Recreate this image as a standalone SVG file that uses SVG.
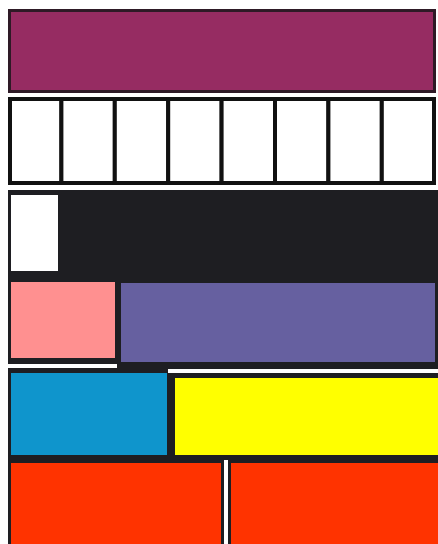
<svg xmlns="http://www.w3.org/2000/svg" width="438" height="544" viewBox="0 0 438 544">
<style>
.cell{fill:#ffffff;stroke:#111;stroke-width:4}
.dk{fill:#1e1e22}
</style>
<rect width="438" height="544" fill="#ffffff"/>
<g id="row1">
<rect x="8" y="9" width="428" height="84" fill="#2e1a26"/>
<rect x="11" y="12" width="422" height="78" fill="#962c62"/>
</g>
<g id="row2">
<rect class="cell" x="10" y="99" width="51.4" height="84"/>
<rect class="cell" x="61.4" y="99" width="53.4" height="84"/>
<rect class="cell" x="114.8" y="99" width="53.4" height="84"/>
<rect class="cell" x="168.2" y="99" width="53.4" height="84"/>
<rect class="cell" x="221.6" y="99" width="53.4" height="84"/>
<rect class="cell" x="275" y="99" width="53.4" height="84"/>
<rect class="cell" x="328.4" y="99" width="53.4" height="84"/>
<rect class="cell" x="381.8" y="99" width="52.2" height="84"/>
</g>
<g id="row3">
<rect class="dk" x="8" y="190" width="430" height="90"/>
<rect x="11" y="195" width="47" height="76" fill="#ffffff"/>
</g>
<g id="row4">
<rect class="dk" x="8" y="280" width="430" height="88"/>
<rect x="11" y="282" width="104" height="76" fill="#ff9090"/>
<rect x="121" y="283" width="314" height="79" fill="#6660a0"/>
</g>
<g id="row5">
<rect class="dk" x="8" y="366" width="430" height="94"/>
<rect x="11" y="373" width="156" height="82" fill="#0f95cc"/>
<rect x="175" y="378" width="263" height="77" fill="#ffff00"/>
<rect x="8" y="364" width="109" height="4" fill="#ffffff"/>
<rect x="168" y="369" width="270" height="4" fill="#ffffff"/>
</g>
<g id="row6">
<rect class="dk" x="8" y="458" width="430" height="86"/>
<rect x="11" y="463" width="210" height="81" fill="#ff3300"/>
<rect x="231" y="463" width="207" height="81" fill="#ff3300"/>
<rect x="224" y="460" width="4" height="84" fill="#ffffff"/>
</g>
</svg>
